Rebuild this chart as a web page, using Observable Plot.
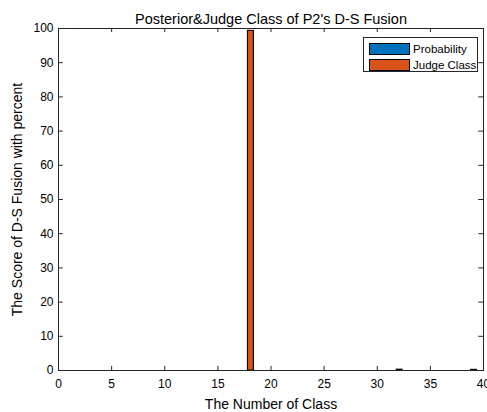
<!DOCTYPE html>
<html>
<head>
<meta charset="utf-8">
<script src="https://cdn.jsdelivr.net/npm/d3@7"></script>
<script src="https://cdn.jsdelivr.net/npm/@observablehq/plot@0.6"></script>
<style>
  html, body { margin: 0; padding: 0; background: #fff; }
  #wrap { position: relative; width: 487px; height: 412px; font-family: "Liberation Sans", Arial, sans-serif; }
  #legend { position: absolute; left: 363px; top: 37px; width: 113px; height: 33px; border: 1px solid #262626; background: #fff; font-size: 11.5px; color: #000; }
  .item { position: absolute; left: 5px; height: 11px; display: flex; align-items: center; white-space: nowrap; }
  .sw { flex: none; width: 39px; height: 10px; border: 1px solid #000; margin-right: 3px; box-sizing: content-box; }
</style>
</head>
<body>
<div id="wrap"></div>
<script>
const titleText = "Posterior&Judge Class of P2's D-S Fusion";
const xLabel = "The Number of Class";
const yLabel = "The Score of D-S Fusion with percent";
const seriesNames = ["Probability", "Judge Class"];
const seriesColors = ["#0072BD", "#D95319"];
const classes = d3.range(1, 41);
const probability = classes.map(c => c === 18 ? 99.3 : c === 32 ? 0.25 : c === 39 ? 0.2 : 0);
const judgeClass = classes.map(c => c === 18 ? 99.3 : 0);
const xTicks = [0, 5, 10, 15, 20, 25, 30, 35, 40];
const yTicks = [0, 10, 20, 30, 40, 50, 60, 70, 80, 90, 100];

const rows = [];
classes.forEach((c, i) => {
  rows.push({cls: c, v: probability[i], s: seriesNames[0]});
  rows.push({cls: c, v: judgeClass[i], s: seriesNames[1]});
});

const axisColor = "#262626";
const plot = Plot.plot({
  width: 487,
  height: 412,
  marginLeft: 58,
  marginRight: 4,
  marginTop: 28,
  marginBottom: 42,
  style: {fontFamily: "Liberation Sans, Arial, sans-serif", fontSize: "12px", color: "#000", background: "#fff"},
  x: {domain: [0, 40]},
  y: {domain: [0, 100]},
  color: {domain: seriesNames, range: seriesColors},
  marks: [
    Plot.rect(rows, {
      x1: d => d.cls - 0.17, x2: d => d.cls + 0.38,
      y1: 0, y2: "v", fill: "s", stroke: "#000", strokeWidth: 1
    }),
    Plot.frame({stroke: axisColor}),
    Plot.ruleX(xTicks, {y1: 0, y2: 1.2, stroke: axisColor}),
    Plot.ruleX(xTicks, {y1: 98.8, y2: 100, stroke: axisColor}),
    Plot.ruleY(yTicks, {x1: 0, x2: 0.45, stroke: axisColor}),
    Plot.ruleY(yTicks, {x1: 39.55, x2: 40, stroke: axisColor}),
    Plot.axisX(xTicks, {tickSize: 0, tickPadding: 9, fontSize: 12, label: xLabel, labelAnchor: "center", labelOffset: 38, labelArrow: "none"}),
    Plot.axisY(yTicks, {tickSize: 0, tickPadding: 5, fontSize: 12, label: yLabel, labelAnchor: "center", labelOffset: 46, labelArrow: "none"}),
    Plot.text([titleText], {frameAnchor: "top", lineAnchor: "bottom", dy: -5, fontSize: 14.5, fill: "#000"})
  ]
});
document.getElementById("wrap").appendChild(plot);
d3.select(plot).selectAll("[aria-label='x-axis label'] text, [aria-label='y-axis label'] text").style("font-size", "14px");

const legend = document.createElement("div");
legend.id = "legend";
seriesNames.forEach((name, i) => {
  const it = document.createElement("div");
  it.className = "item";
  it.style.top = (5 + i * 16) + "px";
  const sw = document.createElement("div");
  sw.className = "sw";
  sw.style.background = seriesColors[i];
  it.appendChild(sw);
  const t = document.createElement("span");
  t.textContent = name;
  it.appendChild(t);
  legend.appendChild(it);
});
document.getElementById("wrap").appendChild(legend);
</script>
</body>
</html>
